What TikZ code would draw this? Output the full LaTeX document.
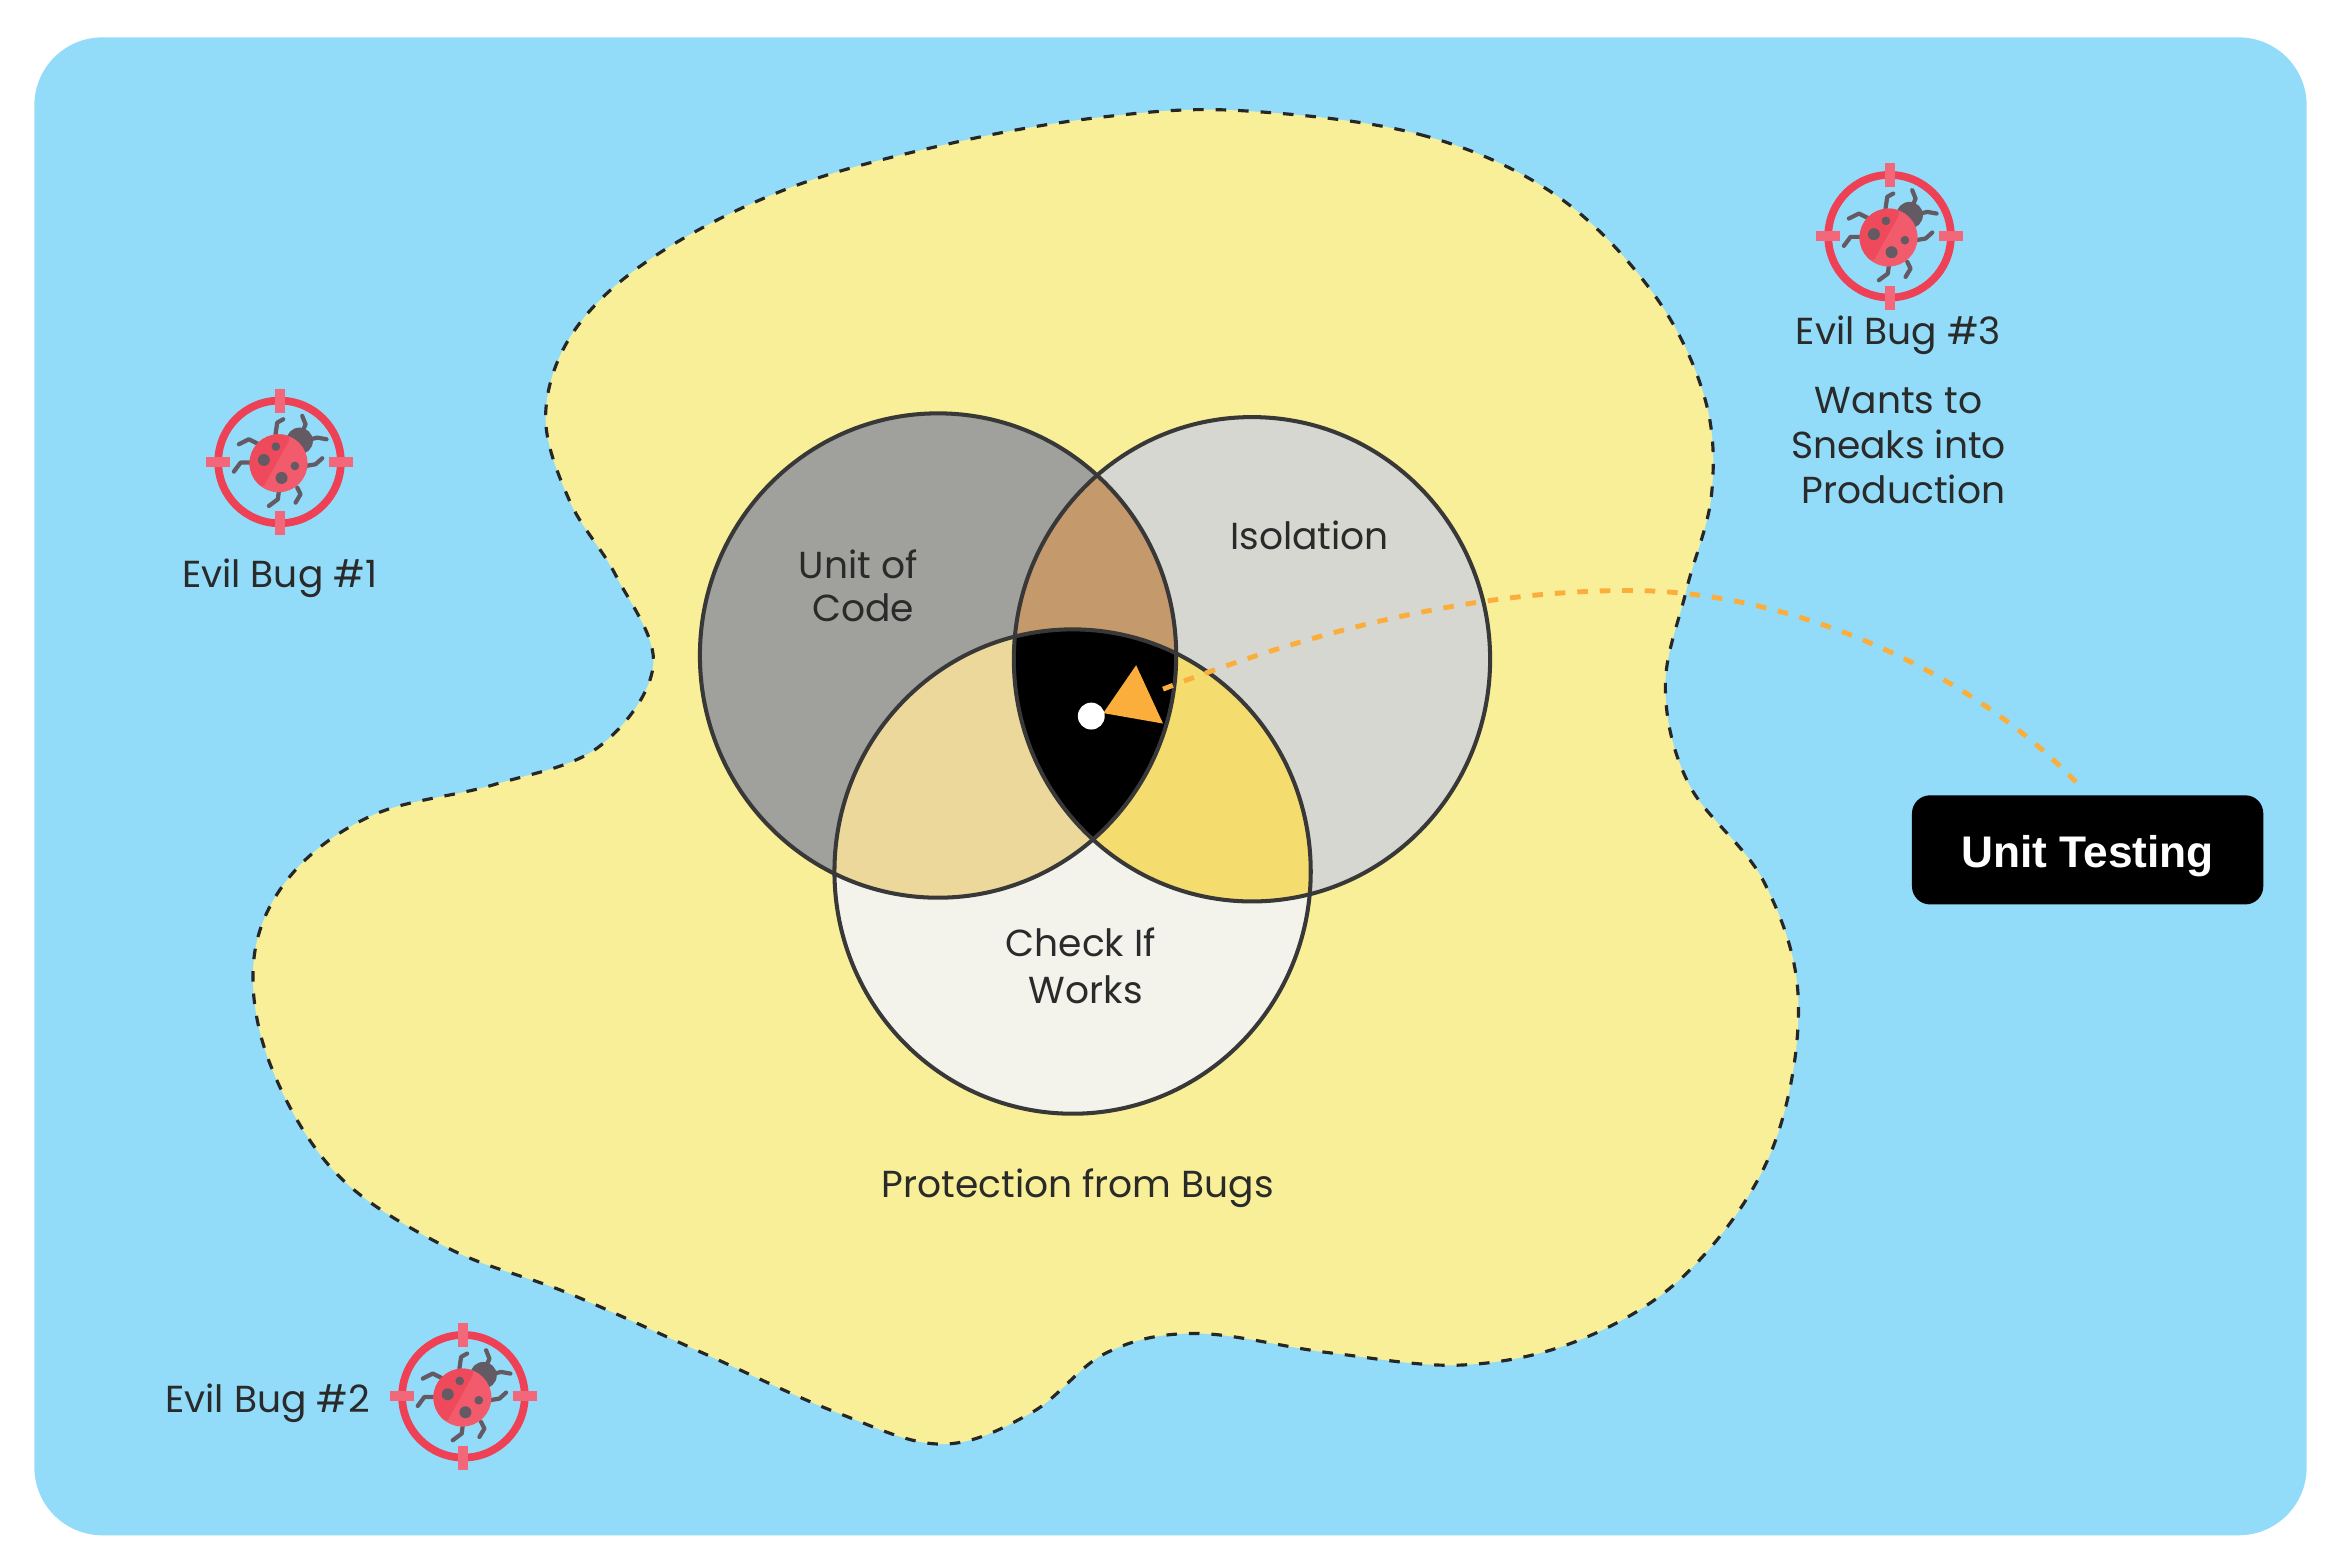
\documentclass[tikz,border=0pt]{standalone}
\usepackage{fontspec}
\setmainfont{Poppins}
\newfontfamily\boxfont{Liberation Sans}
\usepackage[HTML]{xcolor}
\usetikzlibrary{positioning, arrows.meta}

\definecolor{skyback}{HTML}{92DCF9}
\definecolor{islandyellow}{HTML}{F8EF98}
\definecolor{greyunit}{HTML}{A0A09D}
\definecolor{greyiso}{HTML}{D7D7D1}
\definecolor{whitecheck}{HTML}{F3F3EC}
\definecolor{brownunitiso}{HTML}{C49A6C}
\definecolor{sandunitcheck}{HTML}{EDD89C}
\definecolor{goldisocheck}{HTML}{F5DC6E}
\definecolor{dashorange}{HTML}{FBAE3C}
\definecolor{ringred}{HTML}{EE4155}
\definecolor{tickpink}{HTML}{F2687A}
\definecolor{shellred}{HTML}{EF4A5C}
\definecolor{shellpink}{HTML}{F15B6B}
\definecolor{bugdark}{HTML}{645A64}
\definecolor{inktext}{HTML}{2A2A2A}

\tikzset{
  vennline/.style={line width=1.15pt, draw=black!78},
  label/.style={text=inktext, font=\fontsize{10.7}{11}\selectfont, align=center, inner sep=0pt},
  bugicon/.pic={
    % ring and cross hair
    \draw[ringred, line width=2.2pt] (0,0) circle (184);
    \foreach \a in {0,90,180,270}{
      \draw[tickpink, line width=2.85pt] (\a:148) -- (\a:220);
    }
    % legs
    \draw[bugdark, line width=1.2pt, line cap=round, line join=round]
      (-12,-83) -- (-7,-118) -- (11,-128)
      (68,-88) -- (78,-113) -- (68,-138)
      (93,-68) -- (113,-73) -- (141,-68)
      (-62,-53) -- (-92,-68) -- (-122,-53)
      (-87,2) -- (-117,2) -- (-137,29)
      (78,12) -- (108,7) -- (128,-11)
      (-2,87) -- (-5,112) -- (-32,132)
      (53,77) -- (63,97) -- (48,122);
    % head, shell and spots
    \fill[bugdark] (60,-63) circle (40);
    \fill[shellpink] (-3,4) circle (87);
    \begin{scope}
      \clip (-3,4) circle (87);
      \fill[shellred] (28,-63) -- (-47,72) -- (-150,72) -- (-150,-90) -- (28,-90) -- cycle;
    \end{scope}
    \fill[bugdark] (-11,-46) circle (13) (-47,-6) circle (18) (46,12) circle (13) (6,48) circle (18);
  }
}

\begin{document}
\begin{tikzpicture}[x=0.01495cm, y=-0.01495cm]
\useasboundingbox (0,0) rectangle (1568,1045.5);
\fill[white] (0,0) rectangle (1568,1045.5);
\fill[skyback, rounded corners=0.68cm] (23,25) rectangle (1543,1027);

% Protected area
\draw[fill=islandyellow, draw=black!85, line width=0.9pt, dash pattern=on 3pt off 3.4pt]
  plot[smooth cycle, tension=0.6] coordinates {
    (830,74) (950,90) (1040,130) (1105,195) (1140,265) (1145,330) (1128,395) (1114,460)
    (1130,525) (1180,590) (1203,670) (1185,770) (1130,850) (1060,895) (980,913) (890,905)
    (800,892) (740,905) (690,945) (630,966) (560,945) (470,905) (380,865) (300,835)
    (225,785) (180,710) (170,640) (195,585) (250,545) (330,525) (400,500) (437,445)
    (412,385) (381,335) (365,277) (385,220) (440,170) (530,125) (640,95) (740,78)};

% Venn circles
\coordinate (U) at (627.5,438.5);
\coordinate (I) at (837.5,441);
\coordinate (C) at (717.5,583);
\def\rx{159.3}
\def\ry{162}
\tikzset{venn/.style={x radius=\rx, y radius=\ry}}

\fill[greyunit] (U) circle[venn];
\fill[greyiso] (I) circle[venn];
\fill[whitecheck] (C) circle[venn];
\begin{scope}
  \clip (U) circle[venn];
  \fill[brownunitiso] (I) circle[venn];
  \fill[sandunitcheck] (C) circle[venn];
\end{scope}
\begin{scope}
  \clip (I) circle[venn];
  \fill[goldisocheck] (C) circle[venn];
  \clip (U) circle[venn];
  \fill[black] (C) circle[venn];
\end{scope}
\draw[vennline] (U) circle[venn];
\draw[vennline] (I) circle[venn];
\draw[vennline] (C) circle[venn];

% Pointer
\coordinate (tip) at (778,461);
\coordinate (bend) at (1090,395);
\node[fill=black, text=white, rounded corners=0.18cm, minimum width=235*0.01495cm, minimum height=73*0.01495cm, inner sep=0pt, text height=10.2pt, text depth=0pt, font=\boxfont\fontsize{12.6}{13}\selectfont\bfseries] (testing) at (1396.5,568.5) {Unit Testing};
\draw[dashorange, line width=1.4pt, dash pattern=on 3pt off 3.4pt, shorten >=4pt] (tip) .. controls (870,425) and (980,395) .. (bend) .. controls (1200,395) and (1320,450) .. (testing.north);
\fill[dashorange] (760,445) -- (778,484) -- (738,477) -- cycle;
\fill[white] (730,479) circle (9);

% Labels
\node[label] (unit) at (574,392) {Unit of\\[1.3pt]\ Code};
\node[label] (iso) at (876,358) {Isolation};
\node[label] (check) at (723,646) {Check If\\[2.5pt]\ Works};
\node[label] (protect) at (721,795) {Protection from Bugs};

% Bugs
\pic[scale=0.223] at (187,309) {bugicon};
\pic[scale=0.223] at (310,934) {bugicon};
\pic[scale=0.223] at (1264,158) {bugicon};
\node[label] (bugA) at (187,387) {Evil Bug \#1};
\node[label] (bugB) at (179,939) {Evil Bug \#2};
\node[label] (bugC) at (1270,224) {Evil Bug \#3};
\node[label] (wants) at (1270,298) {Wants to\\[1.7pt]Sneaks into\\[1.7pt]\ Production};
\end{tikzpicture}
\end{document}
